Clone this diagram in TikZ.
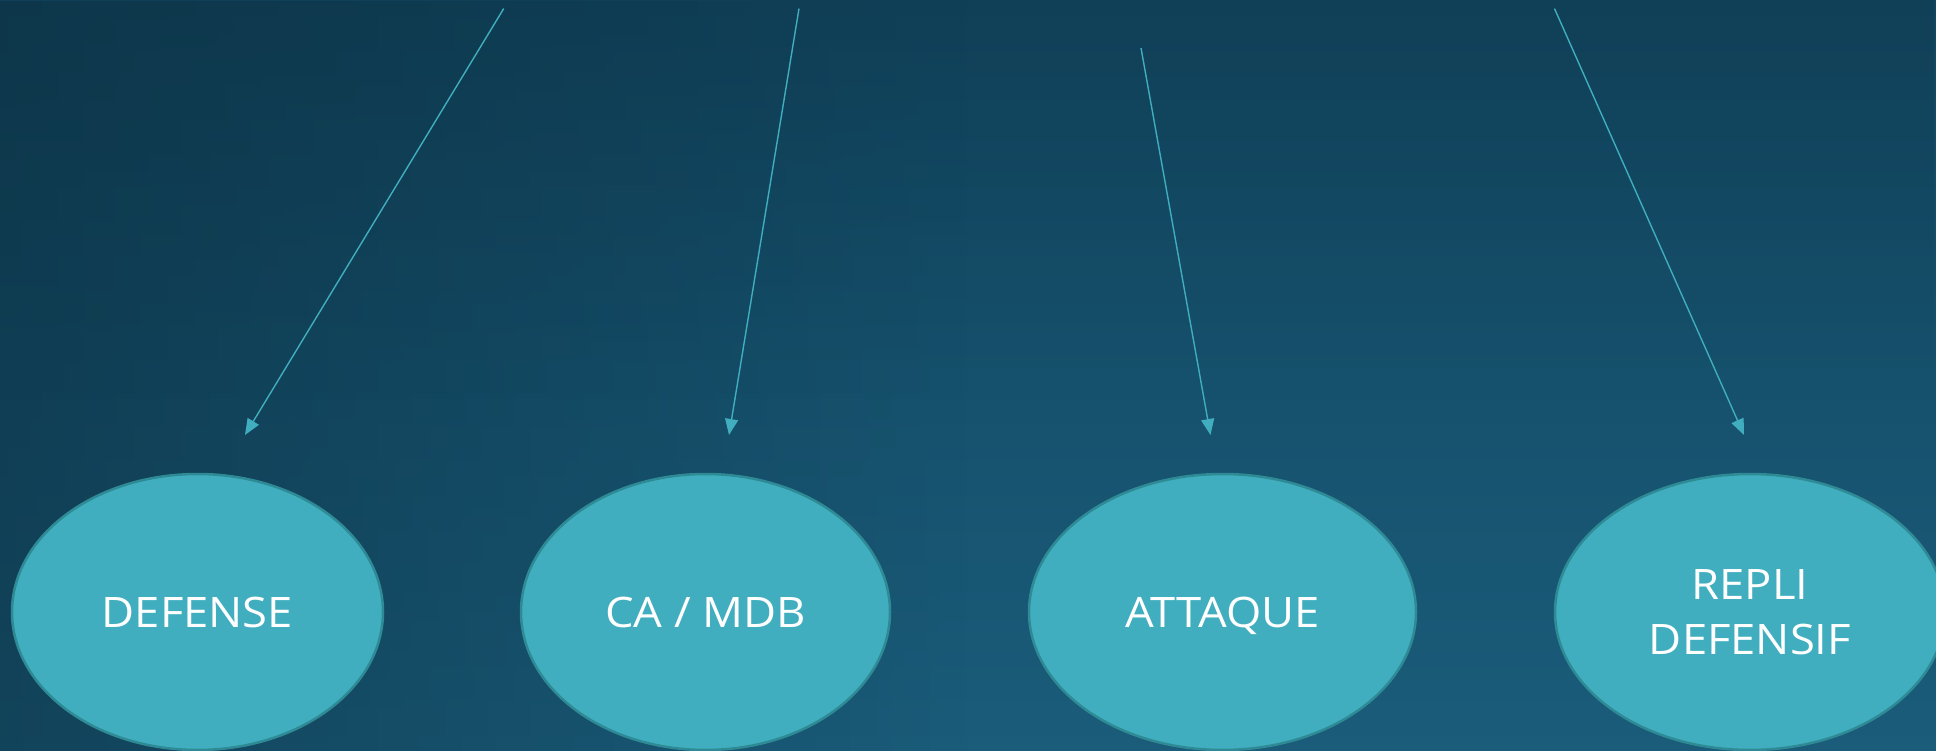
\documentclass[tikz,border=0pt]{standalone}
\usepackage{fontspec}
\setmainfont[FakeStretch=1.08]{Open Sans}
\usetikzlibrary{arrows.meta,shapes.geometric,fadings}
\definecolor{bgtop}{HTML}{124660}
\definecolor{bgbot}{HTML}{1A5C7A}
\definecolor{bgdark}{HTML}{0B2F40}
\definecolor{teal}{HTML}{40AEBE}
\definecolor{tealedge}{HTML}{2E8A94}
\tikzset{
  oval/.style={ellipse, fill=teal, draw=tealedge, line width=2.5pt, minimum height=276pt, inner sep=0pt,
    text=white, font=\fontsize{42}{55}\selectfont, align=center},
  oneline/.style={text height=30pt, text depth=0pt},
  link/.style={draw=teal, line width=1.4pt, -{Triangle[length=16pt,width=13pt]}}
}
\begin{document}
\begin{tikzpicture}[x=1pt,y=-1pt]
\useasboundingbox (0,0) rectangle (1936,751);
\shade[top color=bgtop, bottom color=bgbot] (0,0) rectangle (1936,751);
\fill[bgdark, path fading=east, opacity=0.55] (0,0) rectangle (968,751);
\fill[bgdark, path fading=south, opacity=0.25] (0,0) rectangle (1936,400);

\node[oval, oneline, minimum width=371pt] (def) at (197.5,612) {DEFENSE};
\node[oval, oneline, minimum width=369pt] (ca) at (705.5,612) {CA / MDB};
\node[oval, oneline, minimum width=387pt] (att) at (1222.5,612) {ATTAQUE};
\node[oval, minimum width=390pt] (rep) at (1750,612) {REPLI\\DEFENSIF};

\coordinate (s1) at (503.7,8.6);  \coordinate (e1) at (245,435);
\coordinate (s2) at (799,8.6);    \coordinate (e2) at (729,435);
\coordinate (s3) at (1141,48);    \coordinate (e3) at (1210.5,435);
\coordinate (s4) at (1554.5,8.6); \coordinate (e4) at (1744,435);

\draw[link] (s1) -- (e1);
\draw[link] (s2) -- (e2);
\draw[link] (s3) -- (e3);
\draw[link] (s4) -- (e4);
\end{tikzpicture}
\end{document}
